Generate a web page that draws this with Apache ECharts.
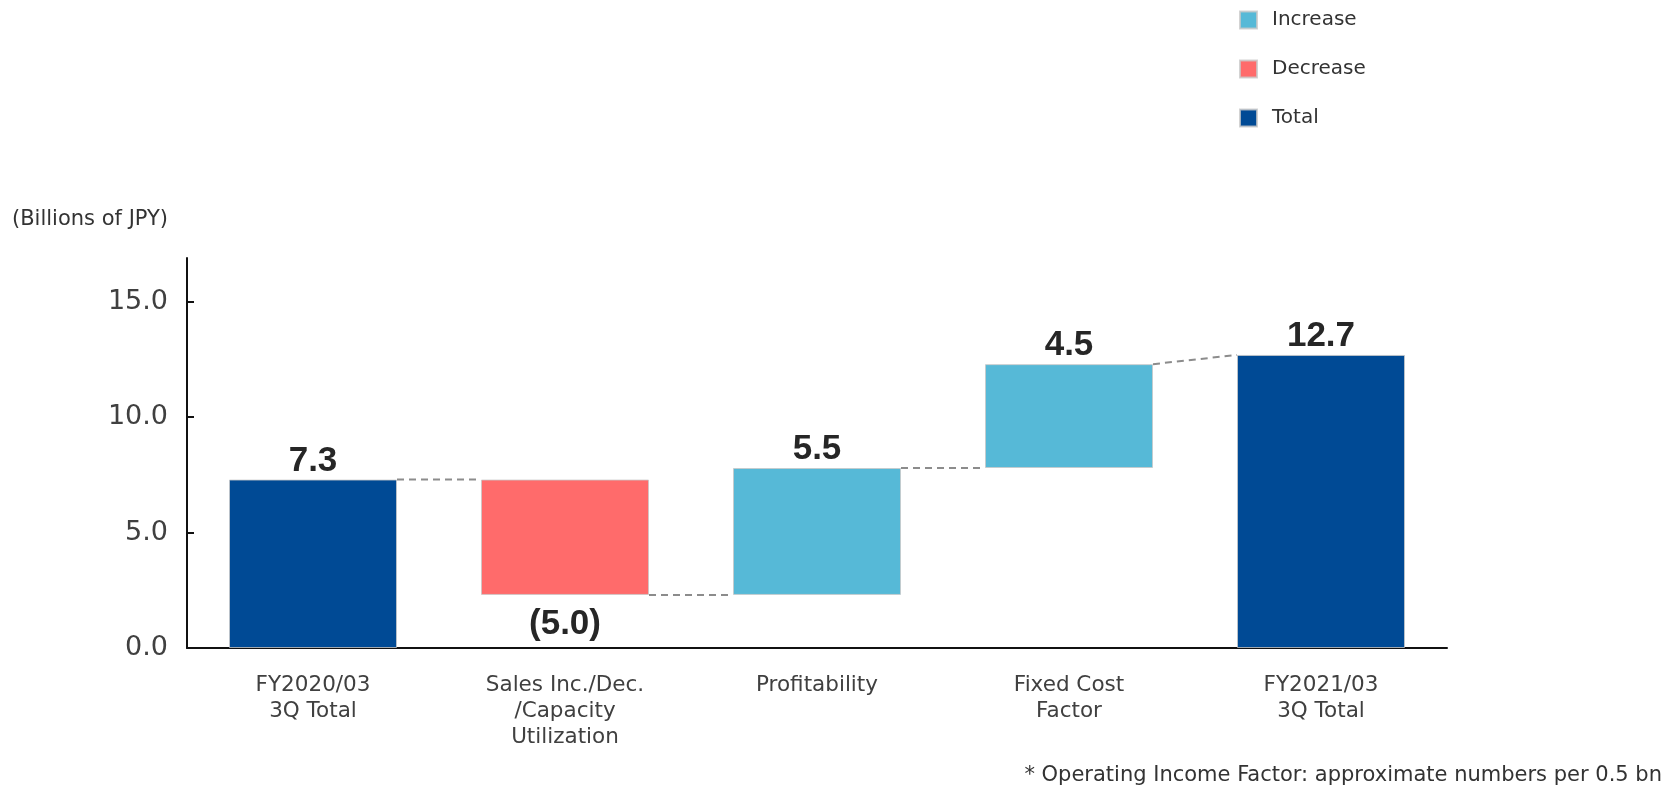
<!DOCTYPE html>
<html>
<head>
<meta charset="utf-8">
<script src="https://cdn.jsdelivr.net/npm/echarts@6/dist/echarts.min.js"></script>
<style>
  html, body { margin: 0; padding: 0; background: #fff; }
  #chart { width: 1668px; height: 786px; }
</style>
</head>
<body>
<div id="chart"></div>
<script>
// Operating income bridge, FY2020/03 3Q -> FY2021/03 3Q (billions of JPY)
const categories = [
  'FY2020/03\n3Q Total',
  'Sales Inc./Dec.\n/Capacity\nUtilization',
  'Profitability',
  'Fixed Cost\nFactor',
  'FY2021/03\n3Q Total'
];
const startTotal = 7.3;                 // FY2020/03 3Q total
const factorChanges = [-5.0, 5.5, 4.5]; // sales/capacity, profitability, fixed cost
const endTotal = 12.7;                  // FY2021/03 3Q total
const yTicks = [0, 5, 10, 15];

const COLORS = { increase: '#56B9D7', decrease: '#FF6B6B', total: '#004A95' };
const BAR_RATIO = 2 / 3;
const TEXT_FONT = '"DejaVu Sans", sans-serif';
const VALUE_FONT = '"Liberation Sans", Arial, sans-serif';

// Build the floating segments of the waterfall
const n = categories.length;
const base = new Array(n).fill('-');
const incData = new Array(n).fill('-');
const decData = new Array(n).fill('-');
const totData = new Array(n).fill('-');
const levels = [startTotal]; // running level after each bar
totData[0] = startTotal;
base[0] = 0;
let running = startTotal;
factorChanges.forEach((d, k) => {
  const i = k + 1;
  if (d >= 0) {
    base[i] = running;
    incData[i] = d;
  } else {
    base[i] = running + d;
    decData[i] = -d;
  }
  running += d;
  levels.push(running);
});
base[n - 1] = 0;
totData[n - 1] = endTotal;

// Dashed connectors: from the level after bar i to the matching edge of bar i+1
const connectors = [];
for (let i = 0; i < n - 1; i++) {
  const from = levels[i];
  const to = (i + 1 === n - 1) ? endTotal : levels[i];
  connectors.push([i, from, to]);
}

const valueLabel = {
  show: true,
  fontFamily: VALUE_FONT,
  fontWeight: 'bold',
  fontSize: 35,
  color: '#262626'
};
const barBorder = { borderColor: 'rgba(200,200,200,0.8)', borderWidth: 1 };

const chart = echarts.init(document.getElementById('chart'), null, { renderer: 'canvas' });
chart.setOption({
  animation: false,
  backgroundColor: '#ffffff',
  title: {
    text: '(Billions of JPY)',
    left: 12,
    top: 209,
    padding: 0,
    textStyle: { fontFamily: TEXT_FONT, fontWeight: 'normal', fontSize: 21, color: '#333333' }
  },
  legend: {
    data: ['Increase', 'Decrease', 'Total'],
    orient: 'vertical',
    left: 1234,
    top: 5,
    itemWidth: 17,
    itemHeight: 17,
    itemGap: 29,
    icon: 'rect',
    textStyle: {
      fontFamily: TEXT_FONT, fontSize: 20, color: '#333333',
      lineHeight: 20, padding: [0, 0, 0, 10]
    }
  },
  grid: { left: 187, right: 221, top: 258, bottom: 138, containLabel: false },
  xAxis: {
    type: 'category',
    data: categories,
    axisLine: { lineStyle: { color: '#111111', width: 2 } },
    axisTick: { show: false },
    axisLabel: {
      interval: 0,
      margin: 24,
      fontFamily: TEXT_FONT,
      fontSize: 21.5,
      lineHeight: 26,
      color: '#404040'
    }
  },
  yAxis: {
    type: 'value',
    min: 0,
    max: 16.9,
    interval: 5,
    splitLine: { show: false },
    axisLine: { show: true, lineStyle: { color: '#111111', width: 2 } },
    axisTick: { show: true, inside: true, length: 7, customValues: yTicks, lineStyle: { color: '#111111', width: 2 } },
    axisLabel: {
      customValues: yTicks,
      margin: 19,
      fontFamily: TEXT_FONT,
      fontSize: 27,
      color: '#404040',
      formatter: v => v.toFixed(1)
    }
  },
  series: [
    {
      name: 'base',
      type: 'bar',
      stack: 'bridge',
      barWidth: (BAR_RATIO * 100) + '%',
      silent: true,
      itemStyle: { color: 'transparent' },
      data: base
    },
    {
      name: 'Total',
      type: 'bar',
      stack: 'bridge',
      barWidth: (BAR_RATIO * 100) + '%',
      itemStyle: Object.assign({ color: COLORS.total }, barBorder),
      label: Object.assign({ position: 'top', distance: 1, formatter: p => p.value.toFixed(1) }, valueLabel),
      data: totData
    },
    {
      name: 'Decrease',
      type: 'bar',
      stack: 'bridge',
      barWidth: (BAR_RATIO * 100) + '%',
      itemStyle: Object.assign({ color: COLORS.decrease }, barBorder),
      label: Object.assign({ position: 'bottom', distance: 12, formatter: p => '(' + p.value.toFixed(1) + ')' }, valueLabel),
      data: decData
    },
    {
      name: 'Increase',
      type: 'bar',
      stack: 'bridge',
      barWidth: (BAR_RATIO * 100) + '%',
      itemStyle: Object.assign({ color: COLORS.increase }, barBorder),
      label: Object.assign({ position: 'top', distance: 1, formatter: p => p.value.toFixed(1) }, valueLabel),
      data: incData
    },
    {
      name: 'connectors',
      type: 'custom',
      silent: true,
      z: 1,
      encode: { x: 0, y: [1, 2] },
      data: connectors,
      renderItem: function (params, api) {
        const i = api.value(0);
        const p1 = api.coord([i, api.value(1)]);
        const p2 = api.coord([i + 1, api.value(2)]);
        const hw = api.size([1, 0])[0] * BAR_RATIO / 2;
        return {
          type: 'line',
          shape: { x1: p1[0] + hw, y1: p1[1], x2: p2[0] - hw, y2: p2[1] },
          style: { stroke: '#8C8C8C', lineWidth: 2, lineDash: [7, 5] }
        };
      }
    }
  ],
  graphic: [
    {
      type: 'text',
      right: 6,
      top: 765,
      style: {
        text: '* Operating Income Factor: approximate numbers per 0.5 bn',
        font: '21px ' + TEXT_FONT,
        fill: '#333333'
      }
    }
  ]
});
</script>
</body>
</html>
